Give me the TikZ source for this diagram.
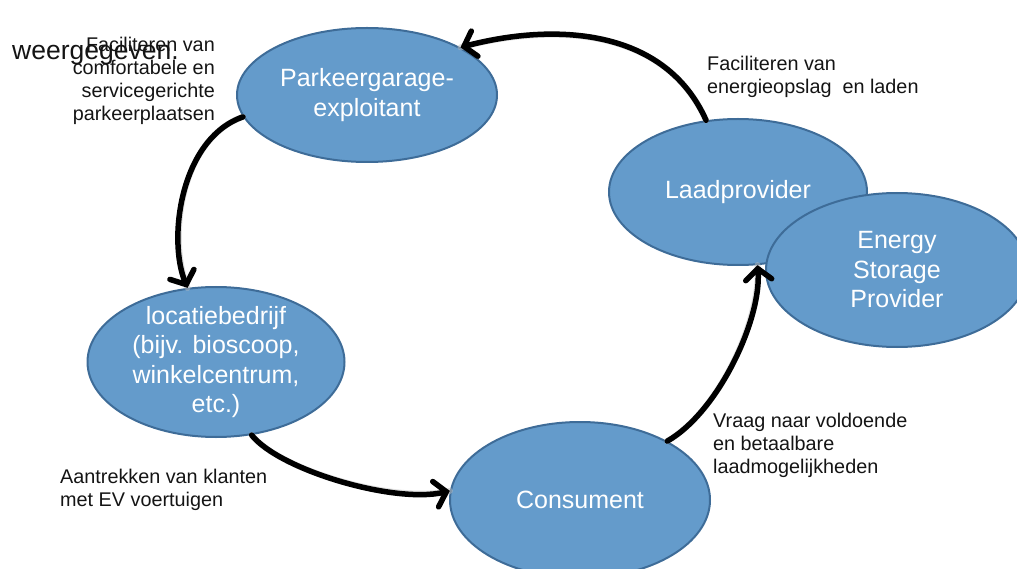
\documentclass[tikz,border=0pt]{standalone}
\usepackage{fontspec}
\setmainfont{Liberation Sans}
\usetikzlibrary{shapes.geometric,arrows.meta}
\definecolor{blobfill}{RGB}{100,155,203}
\definecolor{blobline}{RGB}{62,108,152}
\definecolor{ink}{RGB}{20,20,20}
\tikzset{
  blob/.style={ellipse, draw=blobline, line width=2pt, fill=blobfill, inner sep=0pt},
  blobtext/.style={text=white, align=center, inner sep=0pt, font=\fontsize{25}{29.5}\selectfont},
  note/.style={text=ink, inner sep=0pt, font=\fontsize{19.8}{23}\selectfont},
  flow/.style={line width=5.5pt, line cap=round, -{Straight Barb[length=11pt,width=26pt,line cap=round]}},
  flowshade/.style={line width=6pt, draw=black!25, opacity=0.5, line cap=round}
}
\begin{document}
\begin{tikzpicture}[x=1pt,y=-1pt]
\useasboundingbox (0,0) rectangle (1017,569);
% actors
\node[blob, minimum width=260pt, minimum height=134pt] (pk) at (367,95) {};
\node[blobtext] (pkt) at (pk.center) {Parkeergarage-\\exploitant};
\node[blob, minimum width=258pt, minimum height=146pt] (lp) at (738,192) {};
\node[blobtext] (lpt) at (lp.center) {Laadprovider};
\node[blob, minimum width=262pt, minimum height=154pt] (es) at (897,270) {};
\node[blobtext] (est) at (es.center) {Energy\\Storage\\Provider};
\node[blob, minimum width=257pt, minimum height=150pt] (lb) at (216,362) {};
\node[blobtext] (lbt) at (lb.center) {locatiebedrijf\\(bijv. bioscoop,\\winkelcentrum,\\etc.)};
\node[blob, minimum width=260pt, minimum height=156pt] (cs) at (580,500) {};
\node[blobtext] (cst) at (cs.center) {Consument};
% cycle of arrows (soft shadow first)
\begin{scope}[shift={(2,3)}]
\draw[flowshade] (lp.114) .. controls +(-41,-92) and +(95,-25) .. (pk.27);
\draw[flowshade] (pk.190) .. controls +(-63,22) and +(-20,-48) .. (lb.111);
\draw[flowshade] (lb.296) .. controls +(28,35) and +(-56,13) .. (cs.176);
\draw[flowshade] (cs.34) .. controls +(52,-30) and +(4,53) .. (lp.285);
\end{scope}
\draw[flow] (lp.114) .. controls +(-41,-92) and +(95,-25) .. (pk.27);
\draw[flow] (pk.190) .. controls +(-63,22) and +(-20,-48) .. (lb.111);
\draw[flow] (lb.296) .. controls +(28,35) and +(-56,13) .. (cs.176);
\draw[flow] (cs.34) .. controls +(52,-30) and +(4,53) .. (lp.285);
% captions
\node[note, anchor=north east, align=right] (n1) at (215,36.5) {Faciliteren van\\comfortabele en\\servicegerichte\\parkeerplaatsen};
\node[text=ink, inner sep=0pt, anchor=base west, font=\fontsize{26.5}{30}\selectfont] (n0) at (12,60) {weergegeven.};
\node[note, anchor=north west, align=left] (n2) at (707,55.8) {Faciliteren van\\energieopslag\ \ en laden};
\node[note, anchor=north west, align=left] (n3) at (60,468.8) {Aantrekken van klanten\\met EV voertuigen};
\node[note, anchor=north west, align=left] (n4) at (713,412.8) {Vraag naar voldoende\\en betaalbare\\laadmogelijkheden};
\end{tikzpicture}
\end{document}
